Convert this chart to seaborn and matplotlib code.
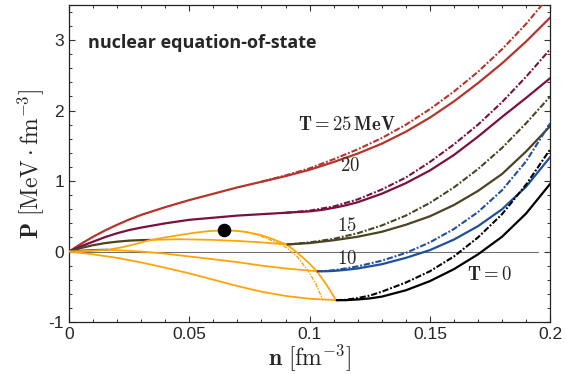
import matplotlib
matplotlib.use('Agg')
import matplotlib.pyplot as plt
import seaborn as sns
import pandas as pd
from matplotlib.ticker import MultipleLocator, FixedLocator, FixedFormatter

# --- data (n in fm^-3, P in MeV fm^-3) ---
n_T25 = [0, 0.005, 0.01, 0.015, 0.02, 0.025, 0.03, 0.04, 0.05, 0.06, 0.07, 0.08, 0.09, 0.10,
         0.11, 0.12, 0.13, 0.14, 0.15, 0.16, 0.17, 0.18, 0.19, 0.20]
P_T25 = [0, 0.11, 0.21, 0.30, 0.38, 0.455, 0.52, 0.63, 0.73, 0.82, 0.91, 0.99, 1.07, 1.16,
         1.27, 1.39, 1.53, 1.70, 1.90, 2.13, 2.39, 2.67, 2.98, 3.32]
n_T25_dd = [0.08, 0.09, 0.10, 0.11, 0.12, 0.13, 0.14, 0.15, 0.16, 0.17, 0.18, 0.19, 0.20]
P_T25_dd = [0.99, 1.08, 1.18, 1.31, 1.45, 1.61, 1.80, 2.02, 2.27, 2.55, 2.87, 3.23, 3.64]

n_T20 = [0, 0.005, 0.01, 0.015, 0.02, 0.025, 0.03, 0.04, 0.05, 0.06, 0.07, 0.08, 0.09, 0.095,
         0.10, 0.105, 0.11, 0.115, 0.12, 0.13, 0.14, 0.15, 0.16, 0.17, 0.18, 0.19, 0.20]
P_T20 = [0, 0.075, 0.14, 0.205, 0.26, 0.305, 0.34, 0.40, 0.45, 0.48, 0.51, 0.53, 0.55, 0.56,
         0.57, 0.59, 0.62, 0.655, 0.70, 0.82, 0.97, 1.15, 1.37, 1.63, 1.91, 2.18, 2.46]
n_T20_dd = [0.09, 0.10, 0.11, 0.12, 0.13, 0.14, 0.15, 0.16, 0.17, 0.18, 0.19, 0.20]
P_T20_dd = [0.55, 0.58, 0.64, 0.74, 0.88, 1.05, 1.27, 1.52, 1.80, 2.12, 2.48, 2.87]

n_T15_gas = [0, 0.005, 0.01, 0.015, 0.02, 0.025, 0.03, 0.034]
P_T15_gas = [0, 0.05, 0.09, 0.12, 0.14, 0.155, 0.162, 0.165]
n_T15_mix = [0.034, 0.046, 0.06, 0.07, 0.08, 0.0905]
P_T15_mix = [0.165, 0.175, 0.165, 0.15, 0.13, 0.10]
n_T15_liq = [0.0905, 0.10, 0.11, 0.12, 0.13, 0.14, 0.15, 0.16, 0.17, 0.18, 0.19, 0.20]
P_T15_liq = [0.10, 0.12, 0.16, 0.21, 0.28, 0.38, 0.50, 0.66, 0.86, 1.10, 1.42, 1.78]
P_T15_dd = [0.10, 0.13, 0.18, 0.26, 0.37, 0.51, 0.69, 0.91, 1.17, 1.47, 1.82, 2.20]

n_T10_gas = [0, 0.005, 0.01, 0.016]
P_T10_gas = [0, 0.01, 0.02, 0.025]
n_T10_mix = [0.016, 0.03, 0.04, 0.05, 0.06, 0.07, 0.08, 0.09, 0.10, 0.103]
P_T10_mix = [0.025, 0.0, -0.03, -0.07, -0.11, -0.15, -0.20, -0.24, -0.27, -0.28]
n_T10_liq = [0.103, 0.1065, 0.11, 0.115, 0.12, 0.13, 0.14, 0.15, 0.16, 0.17, 0.18, 0.19, 0.20]
P_T10_liq = [-0.28, -0.28, -0.275, -0.26, -0.24, -0.18, -0.09, 0.02, 0.17, 0.36, 0.60, 0.92, 1.34]
P_T10_dd = [-0.28, -0.275, -0.265, -0.24, -0.21, -0.13, -0.02, 0.13, 0.32, 0.56, 0.87, 1.28, 1.82]

n_T0_mix = [0, 0.01, 0.02, 0.03, 0.04, 0.05, 0.06, 0.07, 0.08, 0.09, 0.10, 0.111]
P_T0_mix = [0, -0.04, -0.09, -0.155, -0.23, -0.31, -0.40, -0.49, -0.57, -0.63, -0.67, -0.69]
n_T0_liq = [0.111, 0.115, 0.12, 0.125, 0.13, 0.14, 0.15, 0.16, 0.17, 0.18, 0.19, 0.20]
P_T0_liq = [-0.69, -0.69, -0.68, -0.665, -0.64, -0.55, -0.42, -0.25, -0.04, 0.21, 0.54, 0.96]
P_T0_dd = [-0.69, -0.685, -0.66, -0.625, -0.57, -0.44, -0.28, -0.07, 0.20, 0.53, 0.95, 1.45]

n_bin = [0, 0.008, 0.016, 0.022, 0.028, 0.034, 0.04, 0.046, 0.052, 0.058, 0.064,
         0.069, 0.074, 0.079, 0.084, 0.088, 0.0905, 0.092, 0.095, 0.099, 0.103, 0.107, 0.111]
P_bin = [0, 0.01, 0.025, 0.06, 0.11, 0.165, 0.20, 0.235, 0.265, 0.29, 0.30,
         0.295, 0.275, 0.24, 0.185, 0.13, 0.10, 0.06, -0.02, -0.14, -0.28, -0.47, -0.69]
n_bin_dd = [0.066, 0.072, 0.077, 0.082, 0.086, 0.0885, 0.092, 0.095, 0.0995, 0.1025, 0.1055]
P_bin_dd = [0.30, 0.29, 0.25, 0.19, 0.13, 0.10, 0.01, -0.08, -0.28, -0.45, -0.69]

n_crit, P_crit = 0.0645, 0.30

c_red, c_pur, c_olv, c_blu, c_blk, c_org = '#b5352c', '#7a1140', '#4b4322', '#1f4f9e', '#000000', '#ffa50a'
dd = (0, (3, 0.9, 0.9, 0.9))

sns.set_style('ticks')
plt.rcParams['font.family'] = ['Liberation Sans', 'DejaVu Sans']
plt.rcParams['mathtext.fontset'] = 'cm'
plt.rcParams['axes.unicode_minus'] = False

fig, ax = plt.subplots(figsize=(5.66, 3.74), dpi=100)
fig.subplots_adjust(left=0.122, right=0.972, top=0.987, bottom=0.139)

ax.plot([0, 0.195], [0, 0], color='#707070', lw=0.8, zorder=1)


def seg(n, p, color, ls='-', lw=1.6, z=3):
    df = pd.DataFrame({'n': n, 'P': p})
    sns.lineplot(data=df, x='n', y='P', color=color, lw=lw, linestyle=ls,
                 sort=False, estimator=None, ax=ax, zorder=z)


seg(n_T25, P_T25, c_red)
seg(n_T25_dd, P_T25_dd, c_red, dd, 1.5, 4)
seg(n_T20, P_T20, c_pur)
seg(n_T20_dd, P_T20_dd, c_pur, dd, 1.5, 4)
seg(n_T15_gas, P_T15_gas, c_olv)
seg(n_T15_mix, P_T15_mix, c_org, lw=1.3)
seg(n_T15_liq, P_T15_liq, c_olv)
seg(n_T15_liq, P_T15_dd, c_olv, dd, 1.5, 4)
seg(n_T10_gas, P_T10_gas, c_blu)
seg(n_T10_mix, P_T10_mix, c_org, lw=1.3)
seg(n_T10_liq, P_T10_liq, c_blu)
seg(n_T10_liq, P_T10_dd, c_blu, dd, 1.5, 4)
seg(n_T0_mix, P_T0_mix, c_org, lw=1.3)
seg(n_T0_liq, P_T0_liq, c_blk)
seg(n_T0_liq, P_T0_dd, c_blk, dd, 1.5, 4)
seg(n_bin, P_bin, c_org, lw=1.3)
seg(n_bin_dd, P_bin_dd, c_org, (0, (3, 1, 1, 1)), 1.0, 2)
ax.scatter([n_crit], [P_crit], s=95, color='black', zorder=6, linewidths=0)

ax.set_xlim(0, 0.2)
ax.set_ylim(-1, 3.5)
ax.xaxis.set_major_locator(FixedLocator([0, 0.05, 0.1, 0.15, 0.2]))
ax.xaxis.set_major_formatter(FixedFormatter(['0', '0.05', '0.1', '0.15', '0.2']))
ax.xaxis.set_minor_locator(MultipleLocator(0.01))
ax.yaxis.set_major_locator(FixedLocator([-1, 0, 1, 2, 3]))
ax.yaxis.set_major_formatter(FixedFormatter(['-1', '0', '1', '2', '3']))
ax.yaxis.set_minor_locator(MultipleLocator(0.2))
ax.tick_params(which='both', direction='in', top=True, right=True, labelsize=12.5, color='#333333')
ax.tick_params(which='major', length=4, width=0.8)
ax.tick_params(which='minor', length=2.2, width=0.7)
for s in ax.spines.values():
    s.set_linewidth(0.9)
    s.set_color('#222222')

ax.set_xlabel(r'$\mathbf{n}\ [\mathrm{fm}^{-3}]$', fontsize=17, labelpad=0)
ax.set_ylabel(r'$\mathbf{P}\ [\mathrm{MeV}\cdot\mathrm{fm}^{-3}]$', fontsize=17, labelpad=2)

ax.text(0.0079, 2.96, 'nuclear equation-of-state', family=['Open Sans', 'DejaVu Sans'],
        fontweight='bold', fontsize=13, ha='left', va='center')
ax.text(0.1156, 1.8, r'$\mathbf{T = 25\,MeV}$', fontsize=13.5, ha='center', va='center')
ax.text(0.117, 1.22, r'$\mathbf{20}$', fontsize=13.5, ha='center', va='center')
ax.text(0.1156, 0.36, r'$\mathbf{15}$', fontsize=13.5, ha='center', va='center')
ax.text(0.1156, -0.11, r'$\mathbf{10}$', fontsize=13.5, ha='center', va='center')
ax.text(0.1746, -0.33, r'$\mathbf{T = 0}$', fontsize=13.5, ha='center', va='center')

fig.savefig('out.png', dpi=100)
